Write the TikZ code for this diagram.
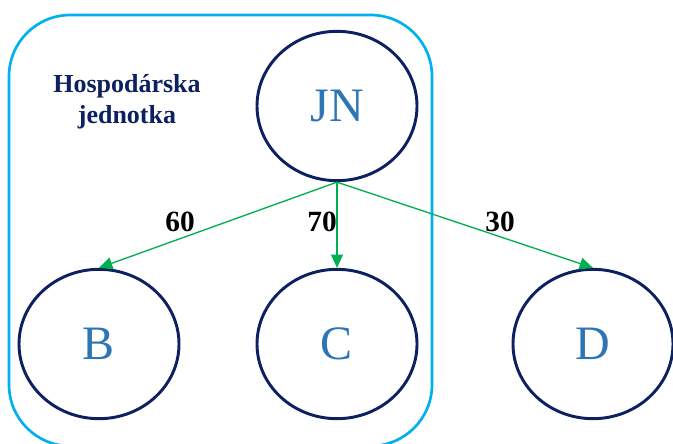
\documentclass[tikz,border=0pt]{standalone}
\usepackage{fontspec}
\setmainfont{Liberation Serif}
\usetikzlibrary{shapes.geometric,arrows.meta}
\definecolor{navyline}{RGB}{13,32,96}
\definecolor{unitblue}{RGB}{0,176,240}
\definecolor{arrowgreen}{RGB}{0,176,80}
\definecolor{lettblue}{RGB}{46,117,182}
\tikzset{
  firm/.style={draw=navyline,line width=2.2pt,ellipse,minimum width=120pt,minimum height=112pt,
    text=lettblue,font=\fontsize{36}{36}\selectfont},
  share/.style={draw=arrowgreen,line width=1pt,-{Triangle[length=10pt,width=9pt]},arrowgreen},
  sharelabel/.style={font=\fontsize{22}{22}\selectfont\bfseries,inner sep=0pt}
}
\begin{document}
\begin{tikzpicture}[x=0.75pt,y=0.75pt,yscale=-1,xscale=1]
\clip (0,0) rectangle (673,443);
%Rounded Rect
\draw[unitblue,line width=2pt,rounded corners=46pt] (9,15) rectangle (432,446);
% Text Node
\node (unit) at (127,102) [align=center,text=navyline,font=\fontsize{19.5}{23.5}\selectfont\bfseries] {Hospodárska\\jednotka};
% Firms
\node[firm] (jn) at (337,106) {JN};
\node[firm] (b) at (99,344) {B};
\node[firm] (c) at (337,344) {C};
\node[firm] (d) at (593,344) {D};
% Arrows
\draw[share] (jn.south) -- (b.north);
\draw[share] (jn.south) -- (c.north);
\draw[share] (jn.south) -- (d.north);
% Labels
\node[sharelabel] (lb) at (180,222) {60};
\node[sharelabel] (lc) at (322,222) {70};
\node[sharelabel] (ld) at (500,222) {30};
\end{tikzpicture}
\end{document}
